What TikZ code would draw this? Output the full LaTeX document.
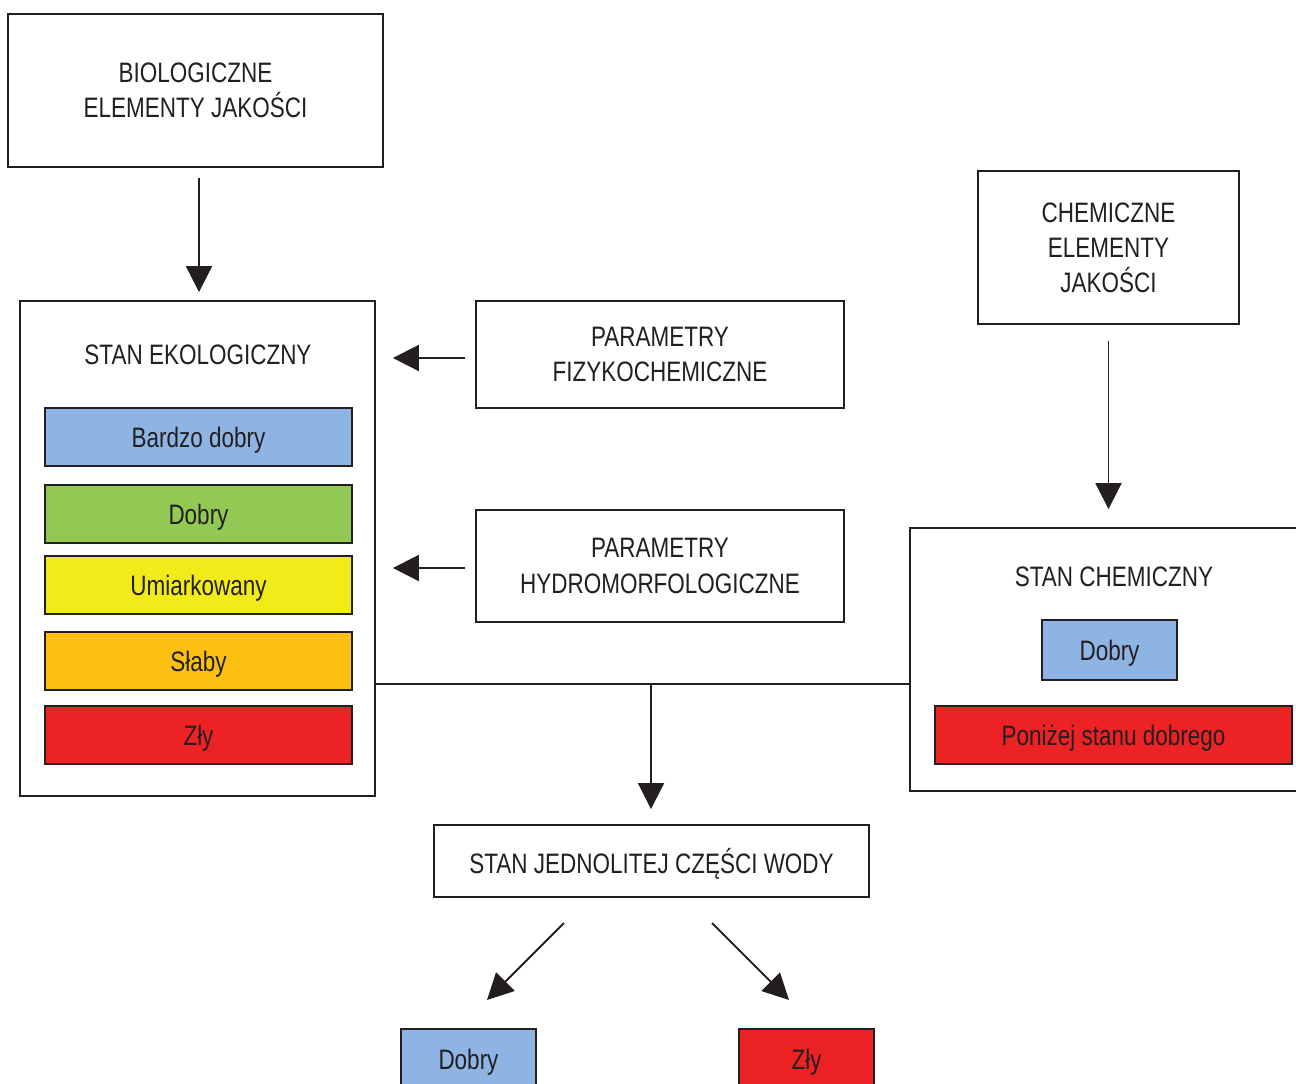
\documentclass[tikz,border=0pt]{standalone}
\usepackage{fontspec}
\setmainfont{Liberation Sans}[FakeStretch=0.8]
\usetikzlibrary{arrows.meta}
\definecolor{ink}{HTML}{231F20}
\definecolor{bdobry}{HTML}{8EB4E3}
\definecolor{dobry}{HTML}{92C955}
\definecolor{umiar}{HTML}{F2EB1A}
\definecolor{slaby}{HTML}{FBC010}
\definecolor{zly}{HTML}{ED2224}
\begin{document}
\begin{tikzpicture}[x=0.02cm,y=-0.02cm,font=\fontsize{16}{20}\selectfont,text=ink,
  box/.style={draw=ink,line width=1.1pt,align=center,inner sep=0pt},
  flat/.style={box,text depth=0pt},
  bar/.style={flat,minimum width=6.14cm,minimum height=1.16cm},
  arr/.style={draw=ink,line width=1.1pt,-{Triangle[length=0.52cm,width=0.52cm]}}]
\useasboundingbox (0,0) rectangle (1296,1083);
% lewa kolumna
\node[box,minimum width=7.5cm,minimum height=3.06cm] (bio) at (195.5,90.5) {BIOLOGICZNE\\ELEMENTY JAKOŚCI};
\node[box,minimum width=7.1cm,minimum height=9.9cm] (eko) at (197.5,548.5) {};
\node[text depth=0pt] (ekotitle) at (198,355) {STAN EKOLOGICZNY};
\node[bar,fill=bdobry] (e1) at (198.5,437) {Bardzo dobry};
\node[bar,fill=dobry] (e2) at (198.5,514) {Dobry};
\node[bar,fill=umiar] (e3) at (198.5,585) {Umiarkowany};
\node[bar,fill=slaby] (e4) at (198.5,661) {Słaby};
\node[bar,fill=zly] (e5) at (198.5,735) {Zły};
% parametry
\node[box,minimum width=7.36cm,minimum height=2.14cm] (fiz) at (660,354.5) {PARAMETRY\\FIZYKOCHEMICZNE};
\node[box,minimum width=7.36cm,minimum height=2.24cm] (hydro) at (660,566) {PARAMETRY\\HYDROMORFOLOGICZNE};
% prawa kolumna
\node[box,minimum width=5.22cm,minimum height=3.06cm] (chemel) at (1108.5,247.5) {CHEMICZNE\\ELEMENTY\\JAKOŚCI};
\node[box,minimum width=7.8cm,minimum height=5.26cm] (chem) at (1105,659.5) {};
\node[text depth=0pt] (chemtitle) at (1114,577) {STAN CHEMICZNY};
\node[flat,fill=bdobry,minimum width=2.7cm,minimum height=1.2cm] (c1) at (1109.5,650) {Dobry};
\node[flat,fill=zly,minimum width=7.14cm,minimum height=1.16cm] (c2) at (1113.5,735) {Poniżej stanu dobrego};
% wynik
\node[flat,minimum width=8.7cm,minimum height=1.44cm] (jcw) at (651.5,861) {STAN JEDNOLITEJ CZĘŚCI WODY};
\node[flat,fill=bdobry,minimum width=2.7cm,minimum height=1.2cm] (w1) at (468.5,1059) {Dobry};
\node[flat,fill=zly,minimum width=2.7cm,minimum height=1.2cm] (w2) at (806.5,1059) {Zły};
% strzalki
\draw[arr,shorten <=0.2cm,shorten >=0.16cm] ([xshift=0.07cm]bio.south) -- ([xshift=0.07cm]bio.south |- eko.north);
\draw[arr,shorten <=0.2cm,shorten >=0.34cm] (fiz.west |- 0,358) -- (eko.east |- 0,358);
\draw[arr,shorten <=0.2cm,shorten >=0.34cm] (hydro.west |- 0,568) -- (eko.east |- 0,568);
\draw[arr,shorten <=0.32cm,shorten >=0.36cm] (chemel.south) -- (chemel.south |- chem.north);
\coordinate (join) at (651,684);
\draw[draw=ink,line width=1.1pt] (eko.east |- join) -- (chem.west |- join);
\draw[arr,shorten >=0.3cm] (join) -- (join |- jcw.north);
\coordinate (l1) at (564,923);
\coordinate (l2) at (487,1000);
\coordinate (r1) at (712,923);
\coordinate (r2) at (789,1000);
\draw[arr] (l1) -- (l2);
\draw[arr] (r1) -- (r2);
\end{tikzpicture}
\end{document}
